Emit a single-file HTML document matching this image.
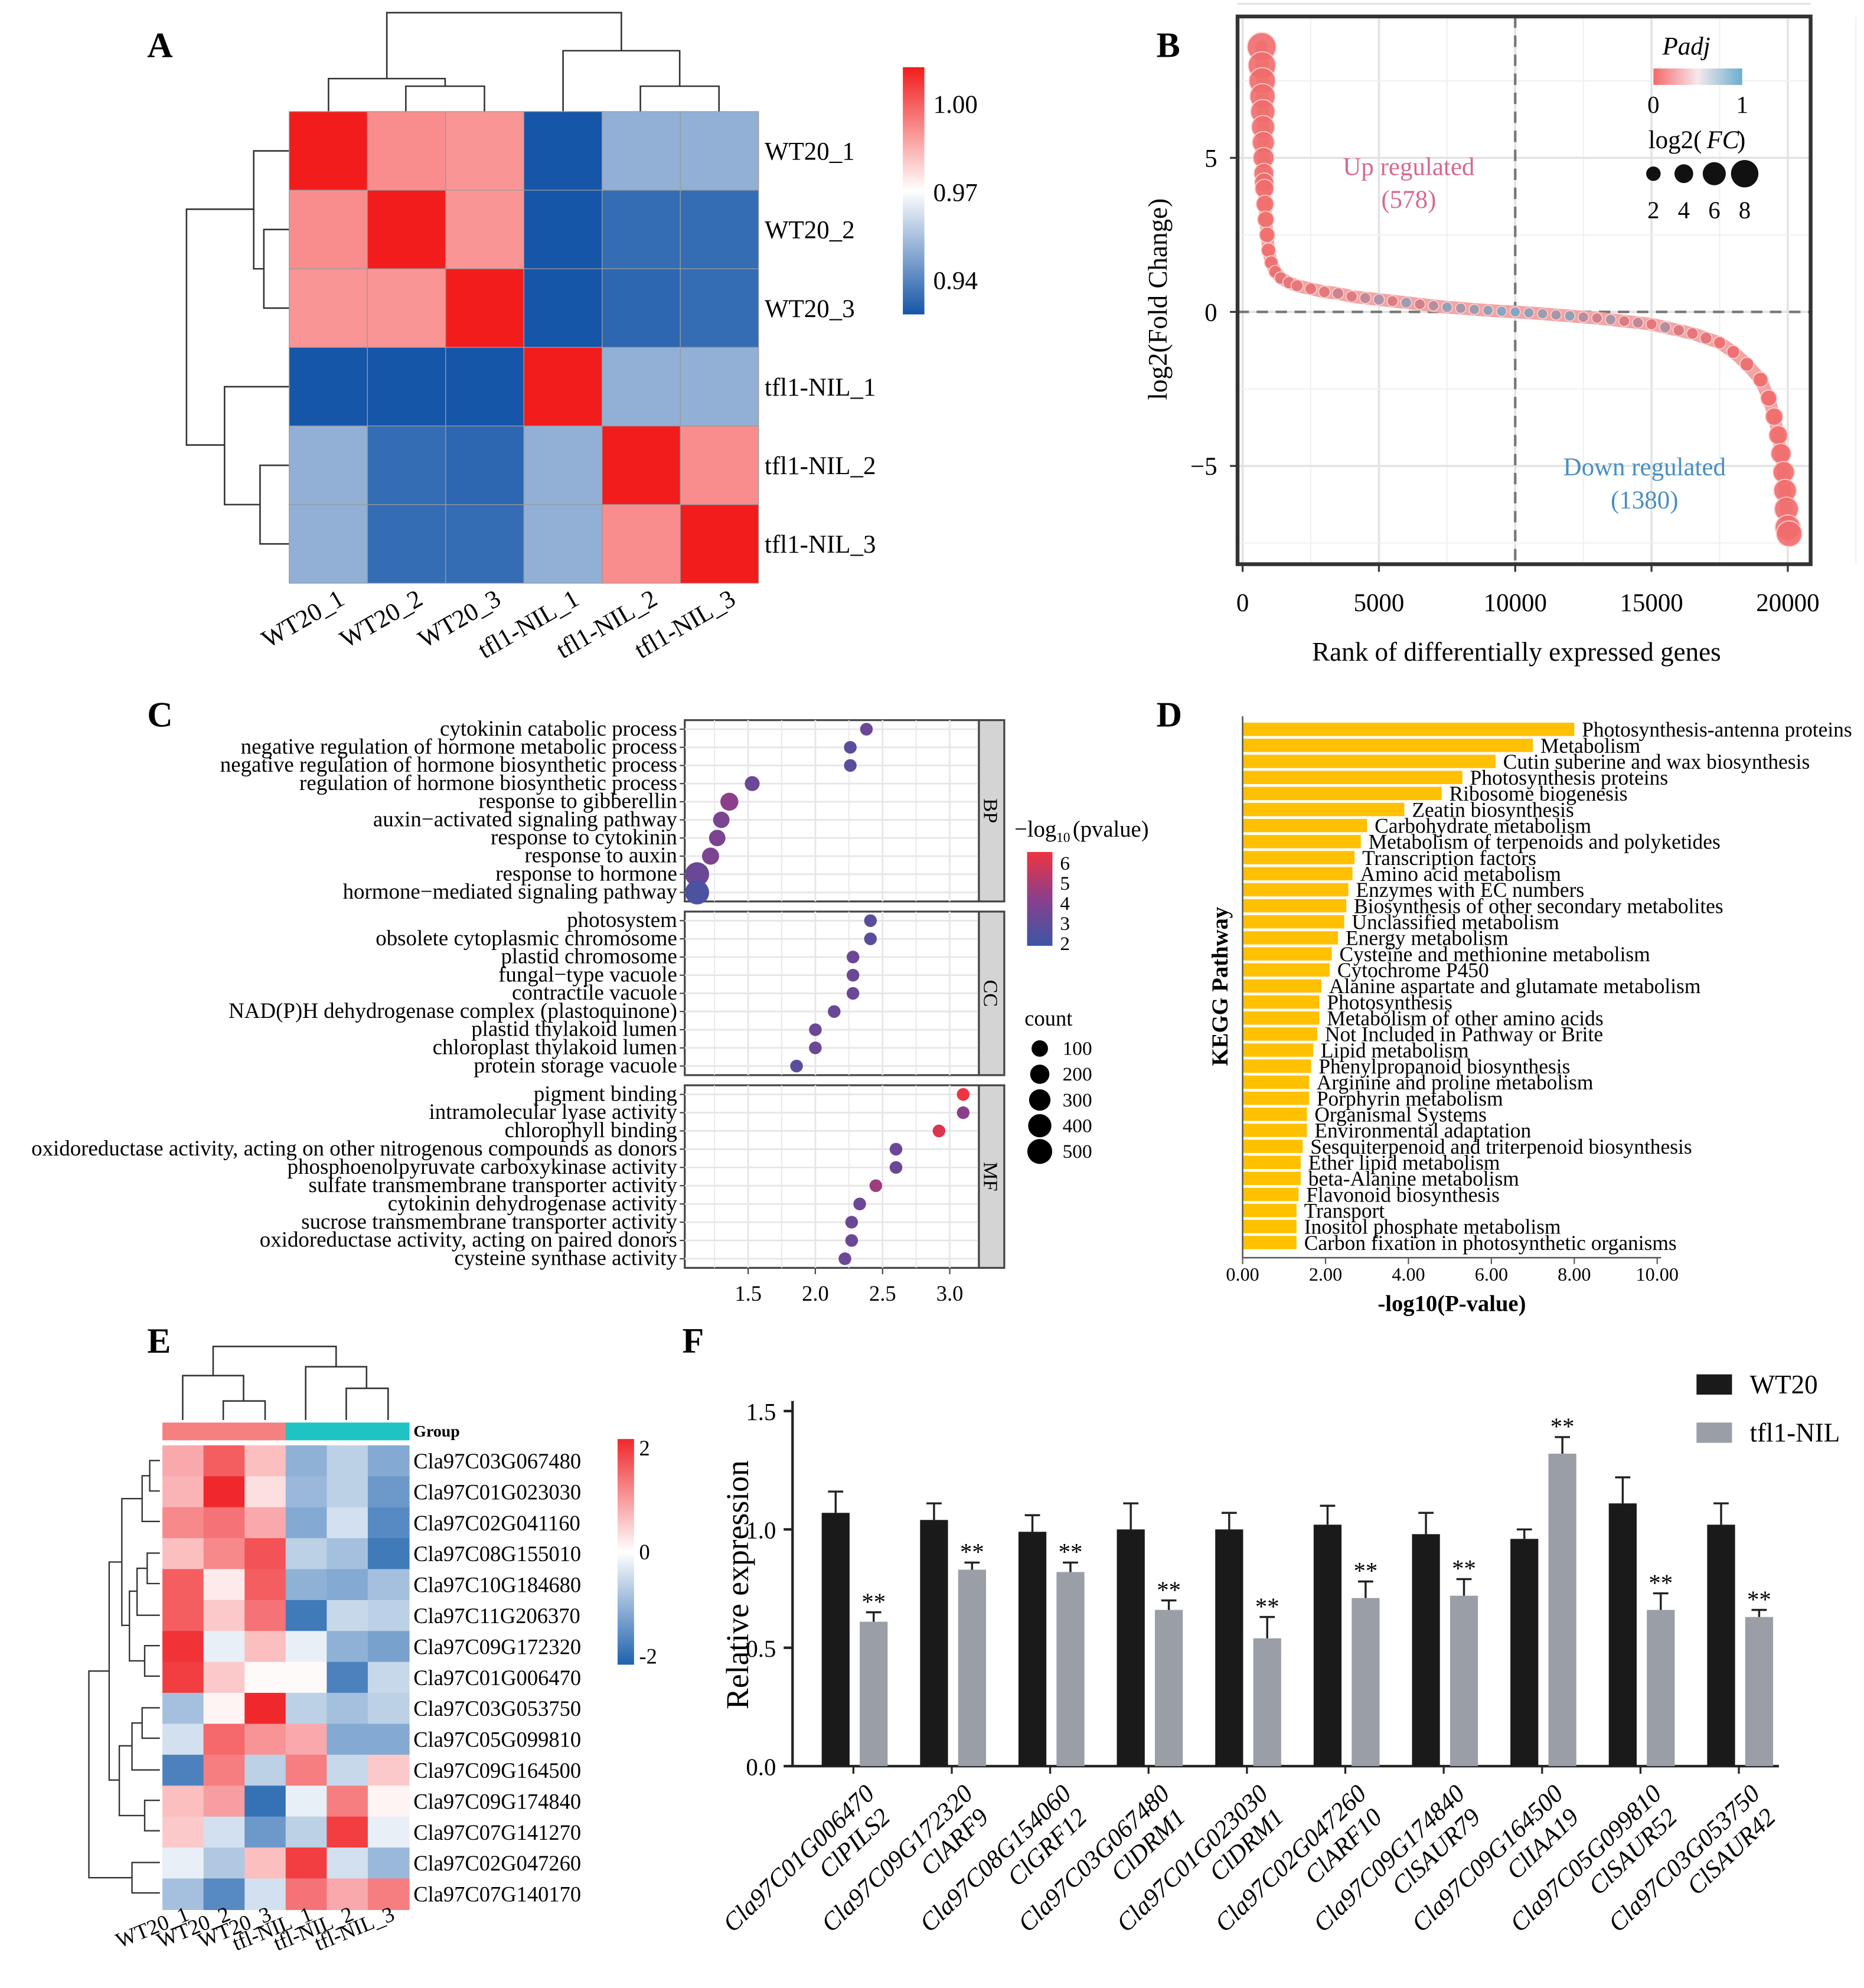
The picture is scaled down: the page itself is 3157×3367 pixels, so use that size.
<!DOCTYPE html>
<html><head><meta charset="utf-8"><title>Figure</title>
<style>
html,body{margin:0;padding:0;background:#fff;}
svg{display:block;font-family:"Liberation Serif",serif;}
</style></head>
<body>
<svg id="fig" xmlns="http://www.w3.org/2000/svg" width="3157" height="3367" viewBox="0 0 1470 1568">
<rect x="0" y="0" width="1470" height="1568" fill="#fff"/>
<g font-weight="bold" font-size="28">
<text x="116" y="45">A</text>
<text x="912" y="45">B</text>
<text x="116" y="573">C</text>
<text x="912" y="573">D</text>
<text x="116" y="1067">E</text>
<text x="538" y="1067">F</text>
</g>
<g stroke="#333" stroke-width="1.2" fill="none">
<path d="M305 62 V10 H490 V40"/>
<path d="M259 88 V62 H351 V68"/>
<path d="M320 88 V68 H382 V88"/>
<path d="M444 88 V40 H536 V68"/>
<path d="M505 88 V68 H567 V88"/>
</g>
<g stroke="#333" stroke-width="1.2" fill="none">
<path d="M228 119 H200 V212 H208"/>
<path d="M228 181 H208 V243 H228"/>
<path d="M200 165 H147 V351 H177"/>
<path d="M228 305 H177 V398 H205"/>
<path d="M228 367 H205 V429 H228"/>
</g>
<g stroke="#333" stroke-width="1.2" fill="none">
<path d="M168 1085 V1062 H265 V1078"/>
<path d="M144 1120 V1085 H192 V1105"/>
<path d="M176 1120 V1105 H209 V1120"/>
<path d="M241 1120 V1078 H289 V1095"/>
<path d="M273 1120 V1095 H306 V1120"/>
</g>
<g stroke="#333" stroke-width="1.1" fill="none">
<path d="M126 1152 H118 V1176 H126"/>
<path d="M118 1164 H112 V1200 H126"/>
<path d="M126 1225 H116 V1249 H126"/>
<path d="M116 1237 H108 V1274 H126"/>
<path d="M126 1298 H114 V1322 H126"/>
<path d="M108 1255 H102 V1310 H114"/>
<path d="M112 1182 H96 V1282 H102"/>
<path d="M126 1347 H112 V1371 H126"/>
<path d="M112 1359 H104 V1396 H126"/>
<path d="M126 1420 H114 V1444 H126"/>
<path d="M104 1377 H94 V1432 H114"/>
<path d="M96 1232 H86 V1404 H94"/>
<path d="M126 1469 H104 V1493 H126"/>
<path d="M86 1318 H70 V1481 H104"/>
</g>
<g id="root"></g>
</svg>
<script>
const NS='http://www.w3.org/2000/svg';
const root=document.getElementById('root');
function mk(tag,a,p){const e=document.createElementNS(NS,tag);for(const k in a)e.setAttribute(k,a[k]);(p||root).appendChild(e);return e;}
function tx(s,x,y,a,p){const e=mk('text',Object.assign({x:x,y:y},a||{}),p);e.textContent=s;return e;}
function hex(c){return [parseInt(c.slice(1,3),16),parseInt(c.slice(3,5),16),parseInt(c.slice(5,7),16)];}
function lerpC(a,b,t){const A=hex(a),B=hex(b);return 'rgb('+A.map((v,i)=>Math.round(v+(B[i]-v)*t)).join(',')+')';}

/* ===== DATA ===== */
const aSamples=['WT20_1','WT20_2','WT20_3','tfl1-NIL_1','tfl1-NIL_2','tfl1-NIL_3'];
const aCorr=[
[1.00,0.985,0.984,0.935,0.956,0.956],
[0.985,1.00,0.984,0.936,0.944,0.944],
[0.984,0.984,1.00,0.936,0.943,0.944],
[0.935,0.936,0.936,1.00,0.956,0.956],
[0.956,0.944,0.943,0.956,1.00,0.985],
[0.956,0.944,0.944,0.956,0.985,1.00]];
const aTicks=[1.00,0.97,0.94];

const bRank=[700,710,720,730,740,750,760,770,780,790,800,820,850,900,950,1050,1200,1400,1700,2000,2500,3000,3500,4000,4500,5000,5500,6000,6500,7000,7500,8000,8500,9000,9500,10000,10500,11000,11500,12000,12500,13000,13500,14000,14500,15000,15500,16000,16500,17000,17500,18000,18500,19000,19300,19500,19650,19750,19850,19900,19950,20000,20050];
const bFC=[8.6,8.0,7.5,7.0,6.5,6.0,5.5,5.0,4.5,4.2,4.0,3.5,3.0,2.5,2.0,1.6,1.3,1.1,0.95,0.85,0.75,0.65,0.6,0.5,0.45,0.4,0.35,0.3,0.25,0.2,0.15,0.12,0.08,0.05,0.02,0,-0.03,-0.06,-0.1,-0.13,-0.17,-0.2,-0.25,-0.3,-0.35,-0.4,-0.5,-0.6,-0.7,-0.85,-1.0,-1.3,-1.7,-2.2,-2.8,-3.4,-4.0,-4.6,-5.2,-5.8,-6.4,-7.0,-7.2];
const bPadj=[0.02,0.02,0.02,0.02,0.02,0.02,0.02,0.02,0.02,0.02,0.02,0.02,0.02,0.02,0.02,0.05,0.05,0.1,0.1,0.1,0.1,0.15,0.3,0.2,0.4,0.6,0.2,0.7,0.3,0.5,0.8,0.6,0.7,0.8,0.9,0.9,0.8,0.7,0.6,0.8,0.5,0.3,0.6,0.2,0.4,0.1,0.5,0.2,0.1,0.15,0.05,0.05,0.05,0.02,0.02,0.02,0.02,0.02,0.02,0.02,0.02,0.02,0.02];
const bXTicks=[0,5000,10000,15000,20000];
const bYTicks=[5,0,-5];

const cTerms=[
['cytokinin catabolic process','negative regulation of hormone metabolic process','negative regulation of hormone biosynthetic process','regulation of hormone biosynthetic process','response to gibberellin','auxin\u2212activated signaling pathway','response to cytokinin','response to auxin','response to hormone','hormone\u2212mediated signaling pathway'],
['photosystem','obsolete cytoplasmic chromosome','plastid chromosome','fungal\u2212type vacuole','contractile vacuole','NAD(P)H dehydrogenase complex (plastoquinone)','plastid thylakoid lumen','chloroplast thylakoid lumen','protein storage vacuole'],
['pigment binding','intramolecular lyase activity','chlorophyll binding','oxidoreductase activity, acting on other nitrogenous compounds as donors','phosphoenolpyruvate carboxykinase activity','sulfate transmembrane transporter activity','cytokinin dehydrogenase activity','sucrose transmembrane transporter activity','oxidoreductase activity, acting on paired donors','cysteine synthase activity']];
const cX=[[2.38,2.26,2.26,1.53,1.36,1.30,1.27,1.22,1.12,1.12],[2.41,2.41,2.28,2.28,2.28,2.14,2.0,2.0,1.86],[3.1,3.1,2.92,2.6,2.6,2.45,2.33,2.27,2.27,2.22]];
const cP=[[3,2.5,2.5,3,4,3.5,3.5,3.5,3,2],[2.5,2.5,3,3,3,3,3,3,2.5],[6.5,4,6,3,3,4.5,3,3,3,3]];
const cCount=[[20,20,20,60,150,100,100,120,450,450],[20,20,20,20,20,20,20,20,20],[20,20,20,20,20,20,20,20,20,20]];
const cFacets=['BP','CC','MF'];
const cXTicks=[1.5,2.0,2.5,3.0];
const cPTicks=[6,5,4,3,2];
const cCountTicks=[100,200,300,400,500];

const dPath=['Photosynthesis-antenna proteins','Metabolism','Cutin suberine and wax biosynthesis','Photosynthesis proteins','Ribosome biogenesis','Zeatin biosynthesis','Carbohydrate metabolism','Metabolism of terpenoids and polyketides','Transcription factors','Amino acid metabolism','Enzymes with EC numbers','Biosynthesis of other secondary metabolites','Unclassified metabolism','Energy metabolism','Cysteine and methionine metabolism','Cytochrome P450','Alanine aspartate and glutamate metabolism','Photosynthesis','Metabolism of other amino acids','Not Included in Pathway or Brite','Lipid metabolism','Phenylpropanoid biosynthesis','Arginine and proline metabolism','Porphyrin metabolism','Organismal Systems','Environmental adaptation','Sesquiterpenoid and triterpenoid biosynthesis','Ether lipid metabolism','beta-Alanine metabolism','Flavonoid biosynthesis','Transport','Inositol phosphate metabolism','Carbon fixation in photosynthetic organisms'];
const dVal=[8.0,7.0,6.1,5.3,4.8,3.9,3.0,2.85,2.7,2.65,2.55,2.5,2.45,2.3,2.15,2.1,1.9,1.85,1.85,1.8,1.7,1.65,1.6,1.6,1.55,1.55,1.45,1.4,1.4,1.35,1.3,1.3,1.3];
const dTicks=[0,2,4,6,8,10];

const eGenes=['Cla97C03G067480','Cla97C01G023030','Cla97C02G041160','Cla97C08G155010','Cla97C10G184680','Cla97C11G206370','Cla97C09G172320','Cla97C01G006470','Cla97C03G053750','Cla97C05G099810','Cla97C09G164500','Cla97C09G174840','Cla97C07G141270','Cla97C02G047260','Cla97C07G140170'];
const eSamples=['WT20_1','WT20_2','WT20_3','tfl-NIL_1','tfl-NIL_2','tfl-NIL_3'];
const eZ=[
[0.8,1.5,0.6,-1.0,-0.6,-1.1],[0.7,2.0,0.3,-0.9,-0.6,-1.3],[1.1,1.3,0.8,-1.1,-0.4,-1.5],[0.6,1.1,1.6,-0.6,-0.8,-1.7],[1.5,0.2,1.5,-1.0,-1.1,-0.8],[1.5,0.5,1.3,-1.7,-0.5,-0.6],[1.9,-0.2,0.6,-0.2,-1.0,-1.2],[1.8,0.5,0.05,0.05,-1.6,-0.5],[-0.8,0.1,2.0,-0.6,-0.8,-0.6],[-0.4,1.4,1.0,0.8,-1.1,-1.1],[-1.6,1.2,-0.6,1.2,-0.5,0.5],[0.6,0.9,-1.8,-0.2,1.2,0.1],[0.5,-0.4,-1.3,-0.6,1.8,-0.2],[-0.2,-0.7,0.6,1.8,-0.4,-0.9],[-0.8,-1.5,-0.4,1.3,0.8,1.2]];
const eTicks=[2,0,-2];

const fGenes=['Cla97C01G006470','Cla97C09G172320','Cla97C08G154060','Cla97C03G067480','Cla97C01G023030','Cla97C02G047260','Cla97C09G174840','Cla97C09G164500','Cla97C05G099810','Cla97C03G053750'];
const fNames=['ClPILS2','ClARF9','ClGRF12','ClDRM1','ClDRM1','ClARF10','ClSAUR79','ClIAA19','ClSAUR52','ClSAUR42'];
const fWT=[1.07,1.04,0.99,1.00,1.00,1.02,0.98,0.96,1.11,1.02];
const fWTerr=[0.09,0.07,0.07,0.11,0.07,0.08,0.09,0.04,0.11,0.09];
const fNIL=[0.61,0.83,0.82,0.66,0.54,0.71,0.72,1.32,0.66,0.63];
const fNILerr=[0.04,0.03,0.04,0.04,0.09,0.07,0.07,0.07,0.07,0.03];
const fTicks=[0.0,0.5,1.0,1.5];

/* ===== PANEL A ===== */
(function(){
const g=mk('g',{});


const x0=228,y0=88,cw=61.7,ch=62;
const col=v=>v>=0.97?lerpC('#ffffff','#f21c1c',Math.min(1,(v-0.97)/0.03)):lerpC('#ffffff','#1656a8',Math.min(1,(0.97-v)/0.03));
aCorr.forEach((row,i)=>row.forEach((v,j)=>{
 const r=mk('rect',{x:x0+j*cw,y:y0+i*ch,width:cw,height:ch,fill:col(v),stroke:'#9a9a9a','stroke-width':0.6},g);
 
 
}));
aSamples.forEach((s,i)=>{
 const t=tx(s,603,y0+i*ch+ch/2+7,{'font-size':20},g);
 
 
 const cx=x0+i*cw+cw/2+14;
 const t2=tx(s,cx,476,{'font-size':20,'text-anchor':'end',transform:'rotate(-30 '+cx+' 476)'},g);
 
 
});
const defs=mk('defs',{},g);
const lg=mk('linearGradient',{id:'gA',x1:0,y1:0,x2:0,y2:1},defs);
mk('stop',{offset:'0','stop-color':'#f21c1c'},lg);mk('stop',{offset:'0.5','stop-color':'#ffffff'},lg);mk('stop',{offset:'1','stop-color':'#1656a8'},lg);
const cb=mk('rect',{x:712,y:53,width:17,height:195,fill:'url(#gA)'},g);


const ty=v=>82+(1.0-v)/0.06*139;
aTicks.forEach(v=>{
 const t=tx(v.toFixed(2),736,ty(v)+7,{'font-size':20},g);
 
 
});
})();

/* ===== PANEL B ===== */
(function(){
const g=mk('g',{});


const X=r=>980+r*0.0215, Y=v=>246-v*24.3;
const L=976,R=1428,T=13,B=445;
const bg=mk('rect',{x:L,y:T,width:R-L,height:B-T,fill:'#fff'},g);


for(let r=0;r<=22500;r+=2500){const l=mk('line',{x1:X(r),x2:X(r),y1:T,y2:B,stroke:r%5000?'#f0f0f0':'#e2e2e2','stroke-width':r%5000?1:1.6},g);}
for(let v=-7.5;v<=10;v+=2.5){const l=mk('line',{x1:L,x2:R,y1:Y(v),y2:Y(v),stroke:v%5?'#f0f0f0':'#e2e2e2','stroke-width':v%5?1:1.6},g);}
const h0=mk('line',{x1:L,x2:R,y1:Y(0),y2:Y(0),stroke:'#777','stroke-width':2,'stroke-dasharray':'9 6'},g);


const v0=mk('line',{x1:X(10000),x2:X(10000),y1:T,y2:B,stroke:'#777','stroke-width':2,'stroke-dasharray':'9 6'},g);


const pc=p=>lerpC('#f46a6a','#6aaecf',p);
const line=mk('polyline',{points:bRank.map((r,i)=>X(r)+','+Y(bFC[i])).join(' '),fill:'none',stroke:'#f4a3a3','stroke-width':10,'stroke-linejoin':'round','stroke-linecap':'round'},g);


bRank.forEach((r,i)=>{
 const c=mk('circle',{cx:X(r),cy:Y(bFC[i]),r:4+Math.abs(bFC[i])*0.85,fill:pc(bPadj[i]),stroke:'#fbd0d0','stroke-width':0.8,'fill-opacity':0.9},g);
 
 
});
const fr=mk('rect',{x:L,y:T,width:R-L,height:B-T,fill:'none',stroke:'#333','stroke-width':3},g);


bXTicks.forEach(v=>{const t=tx(String(v),X(v),482,{'font-size':20,'text-anchor':'middle'},g);mk('line',{x1:X(v),x2:X(v),y1:B,y2:B+6,stroke:'#333','stroke-width':1.5},g);});
bYTicks.forEach(v=>{const t=tx(v<0?'\u2212'+(-v):String(v),960,Y(v)+7,{'font-size':20,'text-anchor':'end'},g);mk('line',{x1:L-6,x2:L,y1:Y(v),y2:Y(v),stroke:'#333','stroke-width':1.5},g);});
const xt=tx('Rank of differentially expressed genes',1196,521,{'font-size':21,'text-anchor':'middle'},g);


const yt=tx('log2(Fold Change)',920,236,{'font-size':21,'text-anchor':'middle',transform:'rotate(-90 920 236)'},g);


const u1=tx('Up regulated',1111,138,{'font-size':20,'text-anchor':'middle',fill:'#d66a8e'},g);


const u2=tx('(578)',1111,164,{'font-size':20,'text-anchor':'middle',fill:'#d66a8e'},g);


const d1=tx('Down regulated',1297,375,{'font-size':20,'text-anchor':'middle',fill:'#4a8fc0'},g);


const d2=tx('(1380)',1297,401,{'font-size':20,'text-anchor':'middle',fill:'#4a8fc0'},g);


const defs=mk('defs',{},g);
const lg=mk('linearGradient',{id:'gB',x1:0,y1:0,x2:1,y2:0},defs);
mk('stop',{offset:'0','stop-color':'#f46a6a'},lg);mk('stop',{offset:'0.5','stop-color':'#f6e8ec'},lg);mk('stop',{offset:'1','stop-color':'#6aaecf'},lg);
const pt=tx('Padj',1330,43,{'font-size':20,'font-style':'italic','text-anchor':'middle'},g);


const pb=mk('rect',{x:1304,y:54,width:70,height:13,fill:'url(#gB)'},g);


tx('0',1304,89,{'font-size':19,'text-anchor':'middle'},g);
tx('1',1374,89,{'font-size':19,'text-anchor':'middle'},g);
const st=tx('log2(',1300,117,{'font-size':20},g);


tx('FC',1346,117,{'font-size':20,'font-style':'italic'},g);
tx(')',1370,117,{'font-size':20},g);
[2,4,6,8].forEach((v,i)=>{
 const c=mk('circle',{cx:1304+i*24,cy:137,r:4+v*0.85,fill:'#111'},g);
 
 
 tx(String(v),1304+i*24,172,{'font-size':19,'text-anchor':'middle'},g);
});
})();

/* ===== PANEL C ===== */
(function(){
const g=mk('g',{});


const X=v=>590+(v-1.5)*106;
const L=540,R=772;
const panels=[[568,711],[719,848],[856,1000]];
const colP=p=>p<4?lerpC('#3c56a6','#8a3f8c',(p-1.5)/2.5):lerpC('#8a3f8c','#ef3340',Math.min(1,(p-4)/2.5));
const rad=c=>3.8+Math.sqrt(c/500)*6;
panels.forEach((pp,k)=>{
 const [T,B]=pp;
 const n=cTerms[k].length, step=(B-T)/n;
 const bg=mk('rect',{x:L,y:T,width:R-L,height:B-T,fill:'#fff',stroke:'#444','stroke-width':1.5},g);
 
 
 for(let v=1.25;v<=3.25;v+=0.25){mk('line',{x1:X(v),x2:X(v),y1:T,y2:B,stroke:'#e6e6e6','stroke-width':v*4%2?0.8:1.3},g);}
 cTerms[k].forEach((t,i)=>{
  const y=T+step*(i+0.5);
  mk('line',{x1:L,x2:R,y1:y,y2:y,stroke:'#e6e6e6','stroke-width':1.3},g);
  mk('line',{x1:L-4,x2:L,y1:y,y2:y,stroke:'#444','stroke-width':1},g);
  const lb=tx(t,L-6,y+5,{'font-size':17.2,'text-anchor':'end'},g);
  
  
 });
 cTerms[k].forEach((t,i)=>{
  const y=T+step*(i+0.5);
  const c=mk('circle',{cx:X(cX[k][i]),cy:y,r:rad(cCount[k][i]),fill:colP(cP[k][i])},g);
  
  
 });
 const s=mk('rect',{x:R,y:T,width:20,height:B-T,fill:'#d4d4d4',stroke:'#444','stroke-width':1.5},g);
 
 
 const my=(T+B)/2;
 const st=tx(cFacets[k],R+4,my,{'font-size':16,'text-anchor':'middle',transform:'rotate(90 '+(R+4)+' '+my+')'},g);
 
 
});
cXTicks.forEach(v=>{mk('line',{x1:X(v),x2:X(v),y1:1000,y2:1005,stroke:'#444'},g);const t=tx(v.toFixed(1),X(v),1026,{'font-size':17,'text-anchor':'middle'},g);});
const lt=tx('\u2212log',800,660,{'font-size':18},g);


tx('10',833,664,{'font-size':11},g);
tx('(pvalue)',846,660,{'font-size':18},g);
const defs=mk('defs',{},g);
const lg=mk('linearGradient',{id:'gC',x1:0,y1:0,x2:0,y2:1},defs);
mk('stop',{offset:'0','stop-color':'#ef3340'},lg);mk('stop',{offset:'0.5','stop-color':'#8a3f8c'},lg);mk('stop',{offset:'1','stop-color':'#3c56a6'},lg);
const cb=mk('rect',{x:810,y:672,width:20,height:74,fill:'url(#gC)'},g);


cPTicks.forEach(v=>{const t=tx(String(v),836,681+(6-v)*15.8+5,{'font-size':15.5},g);});
const ct=tx('count',808,809,{'font-size':17},g);


cCountTicks.forEach((v,i)=>{
 const c=mk('circle',{cx:820,cy:827+i*20.3,r:rad(v),fill:'#000'},g);
 
 
 tx(String(v),838,832+i*20.3,{'font-size':15.5},g);
});
})();

/* ===== PANEL D ===== */
(function(){
const g=mk('g',{});


const X=v=>980+v*32.7;
const T=570,step=12.65;
dPath.forEach((p,i)=>{
 const y=T+i*step;
 const b=mk('rect',{x:X(0),y:y,width:X(dVal[i])-X(0),height:10.5,fill:'#ffc000'},g);
 
 
 const t=tx(p,X(dVal[i])+6,y+11,{'font-size':16.5},g);
 
 
});
const ax=mk('path',{d:'M980 565 V992 H1310',fill:'none',stroke:'#555','stroke-width':1.2},g);


dTicks.forEach(v=>{mk('line',{x1:X(v),x2:X(v),y1:992,y2:997,stroke:'#555'},g);const t=tx(v.toFixed(2),X(v),1010,{'font-size':15,'text-anchor':'middle'},g);});
const xt=tx('-log10(P-value)',1145,1034,{'font-size':18,'font-weight':'bold','text-anchor':'middle'},g);


const yt=tx('KEGG Pathway',968,778,{'font-size':18,'font-weight':'bold','text-anchor':'middle',transform:'rotate(-90 968 778)'},g);


})();

/* ===== PANEL E ===== */
(function(){
const g=mk('g',{});


const x0=128,y0=1140,cw=32.4,ch=24.4;
const col=v=>v>=0?lerpC('#ffffff','#f0282c',Math.min(1,v/2)):lerpC('#ffffff','#1f62ad',Math.min(1,-v/2));
eSamples.forEach((s,j)=>{
 const gr=mk('rect',{x:x0+j*cw,y:1122,width:cw+0.5,height:14,fill:j<3?'#f58080':'#1fc3c3'},g);
 
 
});
const gl=tx('Group',326,1133,{'font-size':13,'font-weight':'bold'},g);


eZ.forEach((row,i)=>row.forEach((v,j)=>{
 const r=mk('rect',{x:x0+j*cw,y:y0+i*ch,width:cw+0.5,height:ch+0.5,fill:col(v)},g);
 
 
}));
eGenes.forEach((s,i)=>{
 const t=tx(s,326,y0+i*ch+ch/2+6,{'font-size':17},g);
 
 
});
eSamples.forEach((s,j)=>{
 const cx=x0+j*cw+cw/2+6;
 const t=tx(s,cx,1514,{'font-size':17,'text-anchor':'end',transform:'rotate(-22 '+cx+' 1514)'},g);
 
 
});
const defs=mk('defs',{},g);
const lg=mk('linearGradient',{id:'gE',x1:0,y1:0,x2:0,y2:1},defs);
mk('stop',{offset:'0','stop-color':'#f0282c'},lg);mk('stop',{offset:'0.5','stop-color':'#ffffff'},lg);mk('stop',{offset:'1','stop-color':'#1f62ad'},lg);
const cb=mk('rect',{x:487,y:1135,width:13,height:178,fill:'url(#gE)'},g);


eTicks.forEach(v=>{const t=tx(v<0?'-'+(-v):String(v),504,1224-v*41+6,{'font-size':17},g);});
})();

/* ===== PANEL F ===== */
(function(){
const g=mk('g',{});


const Y=v=>1393-v*186.7;
const gx=i=>673+i*77.6, bw=22;
const ax=mk('path',{d:'M625 1105 V1393 H1403',fill:'none',stroke:'#222','stroke-width':2},g);


fTicks.forEach(v=>{mk('line',{x1:618,x2:625,y1:Y(v),y2:Y(v),stroke:'#222','stroke-width':2},g);const t=tx(v.toFixed(1),612,Y(v)+7,{'font-size':19,'text-anchor':'end'},g);});
function err(x,v,e){mk('path',{d:'M'+x+' '+Y(v)+' V'+Y(v+e)+' M'+(x-6)+' '+Y(v+e)+' H'+(x+6),stroke:'#222','stroke-width':1.6,fill:'none'},g);}
fGenes.forEach((gn,i)=>{
 const c=gx(i);
 const b1=mk('rect',{x:c-bw-3,y:Y(fWT[i]),width:bw,height:Y(0)-Y(fWT[i]),fill:'#1a1a1a'},g);
 
 
 err(c-bw/2-3,fWT[i],fWTerr[i]);
 const b2=mk('rect',{x:c+5,y:Y(fNIL[i]),width:bw,height:Y(0)-Y(fNIL[i]),fill:'#9a9ea6'},g);
 
 
 err(c+5+bw/2,fNIL[i],fNILerr[i]);
 const s=tx('**',c+5+bw/2,Y(fNIL[i]+fNILerr[i])-2,{'font-size':19,'text-anchor':'middle'},g);
 
 
 mk('line',{x1:c,x2:c,y1:1393,y2:1399,stroke:'#222','stroke-width':1.5},g);
 const lx=c+8,ly=1406;
 const lg=mk('g',{transform:'translate('+lx+' '+ly+') rotate(-44)'},g);
 
 
 tx(gn,0,14,{'font-size':20,'font-style':'italic','text-anchor':'end'},lg);
 tx(fNames[i],-4,36,{'font-size':20,'font-style':'italic','text-anchor':'end'},lg);
});
const yt=tx('Relative  expression',590,1250,{'font-size':25,'text-anchor':'middle',transform:'rotate(-90 590 1250)'},g);


const l1=mk('rect',{x:1338,y:1084,width:28,height:16,fill:'#1a1a1a'},g);


const t1=tx('WT20',1380,1099,{'font-size':21},g);


const l2=mk('rect',{x:1338,y:1122,width:28,height:16,fill:'#9a9ea6'},g);


const t2=tx('tfl1-NIL',1380,1137,{'font-size':21},g);


})();
</script>
</body></html>
